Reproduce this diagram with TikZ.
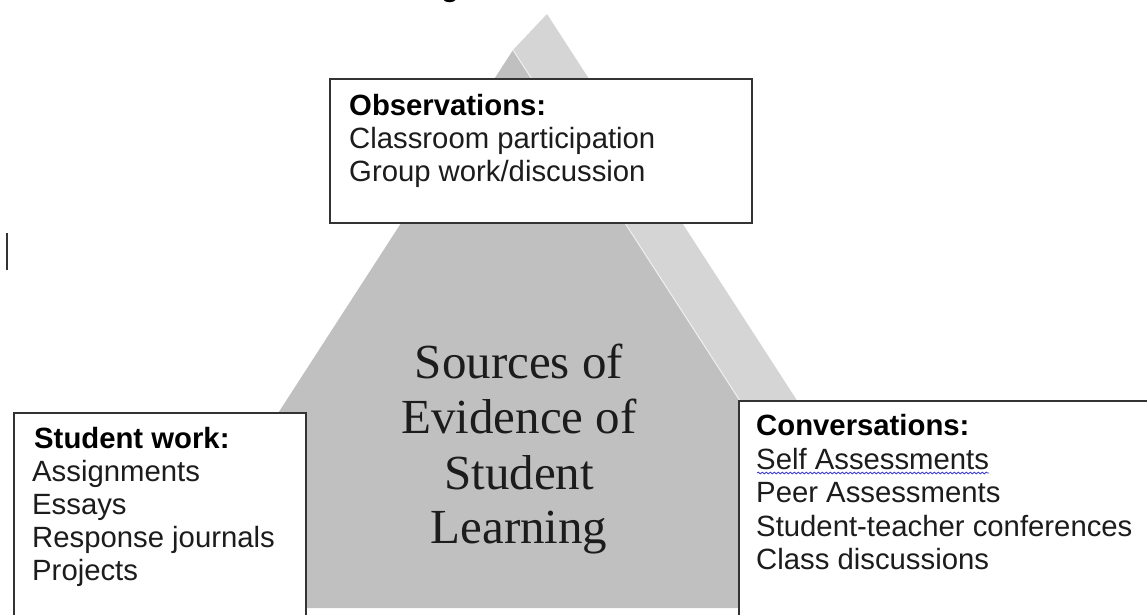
\documentclass[tikz,border=0pt]{standalone}
\usepackage{fontspec}
\setmainfont{Liberation Sans}
\newfontfamily\serifface{Liberation Serif}
\usetikzlibrary{decorations.pathmorphing}
\definecolor{frontgray}{HTML}{C0C0C0}
\definecolor{sidegray}{HTML}{D5D5D5}
\definecolor{boxline}{HTML}{333333}
\definecolor{textcol}{HTML}{1C1C1C}
\definecolor{squig}{HTML}{3A3AD0}
\begin{document}
\begin{tikzpicture}[x=1pt,y=-1pt,
  infobox/.style={draw=boxline, line width=1.5pt, fill=white, anchor=north west, inner sep=0pt},
  txt/.style={anchor=base west, inner sep=0pt, font=\fontsize{29.3}{33}\selectfont, text=textcol},
  hd/.style={anchor=base west, inner sep=0pt, font=\fontsize{29.3}{33}\selectfont\bfseries, text=black},
  ctr/.style={anchor=base, inner sep=0pt, font=\serifface\fontsize{49}{55}\selectfont, text=textcol}]
\useasboundingbox (0,0) rectangle (1147,614);
\clip (0,0) rectangle (1147,614);
\fill[white] (0,0) rectangle (1147,614);
% cut-off title fragment
\node[hd, anchor=base west] (title) at (441,-4) {g};
% pyramid
\coordinate (F) at (513,50);
\coordinate (B) at (547,14);
\coordinate (BL) at (152,608);
\coordinate (BR) at (874,608);
\coordinate (BB) at (908,572);
\fill[sidegray] (F) -- (B) -- (BB) -- (BR) -- cycle;
\fill[frontgray] (F) -- (BL) -- (BR) -- cycle;
\draw[white, opacity=0.7, line width=1pt] (F) -- (BR);
% boxes
\node[infobox, minimum width=422pt, minimum height=144pt] (obs) at (329,78) {};
\node[infobox, minimum width=292pt, minimum height=230pt] (work) at (13,412) {};
\node[infobox, minimum width=430pt, minimum height=240pt] (conv) at (738,400) {};
% observations text
\node[hd] (obsh) at (349,115) {Observations:};
\node[txt] (obs1) at (349,148) {Classroom participation};
\node[txt] (obs2) at (349,181) {Group work/discussion};
% student work text
\node[hd] (workh) at (34,448) {Student work:};
\node[txt] (work1) at (32,481) {Assignments};
\node[txt] (work2) at (32,514) {Essays};
\node[txt] (work3) at (32,547) {Response journals};
\node[txt] (work4) at (32,580) {Projects};
% conversations text
\node[hd] (convh) at (756,435) {Conversations:};
\node[txt] (conv1) at (756,469) {Self Assessments};
\node[txt] (conv2) at (756,502) {Peer Assessments};
\node[txt] (conv3) at (756,536) {Student-teacher conferences};
\node[txt] (conv4) at (756,569) {Class discussions};
\draw[squig, line width=0.8pt, decorate, decoration={snake, amplitude=0.9pt, segment length=4pt}] (conv1.base west) ++(1,4) -- ++(232,0);
% centre text
\node[ctr] (c1) at (519,378) {Sources of};
\node[ctr] (c2) at (519,433) {Evidence of};
\node[ctr] (c3) at (519,489) {Student};
\node[ctr] (c4) at (519,543) {Learning};
% text cursor
\coordinate (cur1) at (7,233);
\coordinate (cur2) at (7,270);
\draw[boxline, line width=1.5pt] (cur1) -- (cur2);
\end{tikzpicture}
\end{document}
